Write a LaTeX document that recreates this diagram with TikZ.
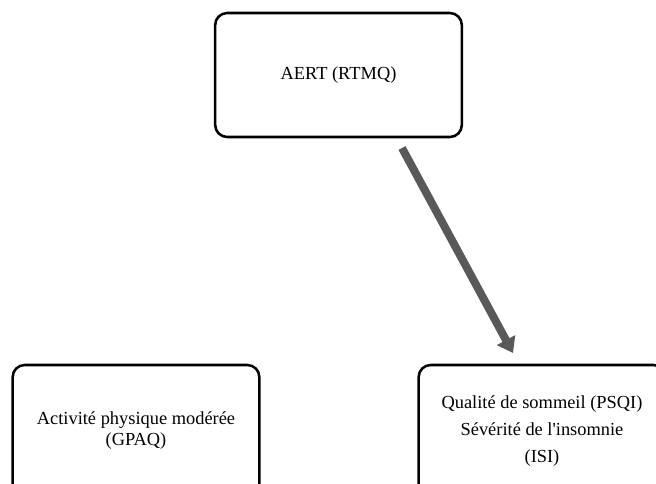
\documentclass[tikz,border=0pt]{standalone}
\usepackage{fontspec}
\setmainfont{Liberation Serif}
\usetikzlibrary{arrows.meta}
\usetikzlibrary{positioning}

\begin{document}
\begin{tikzpicture}[x=0.75pt,y=-0.75pt,thick]
\tikzstyle{box}=[draw,line width=1.9pt,rounded corners=9pt,align=center,minimum width=185pt,minimum height=93pt,inner sep=0pt,font=\fontsize{13.8}{15.75}\selectfont]
\tikzstyle{flow}=[draw=black!65,line width=6pt,-{Triangle[width=15pt,length=11pt]}]
\useasboundingbox (0,0) rectangle (656,483);

\node[box]	(aert)	at (338.5,75)		{AERT (RTMQ)};
\node[box, minimum height=99pt]	(gpaq)	at (136,431)		{Activit\'e physique mod\'er\'ee\\(GPAQ)};
\node[box, minimum height=99pt, font=\fontsize{13.8}{20.25}\selectfont]	(psqi)	at (542,431)	{Qualit\'e de sommeil (PSQI)\\S\'ev\'erit\'e de l\textquotesingle insomnie\\(ISI)};

\coordinate	(from)	at (402,148);
\coordinate	(to)	at (513,353);

\path[flow]	(from)	--	(to);
\end{tikzpicture}
\end{document}
